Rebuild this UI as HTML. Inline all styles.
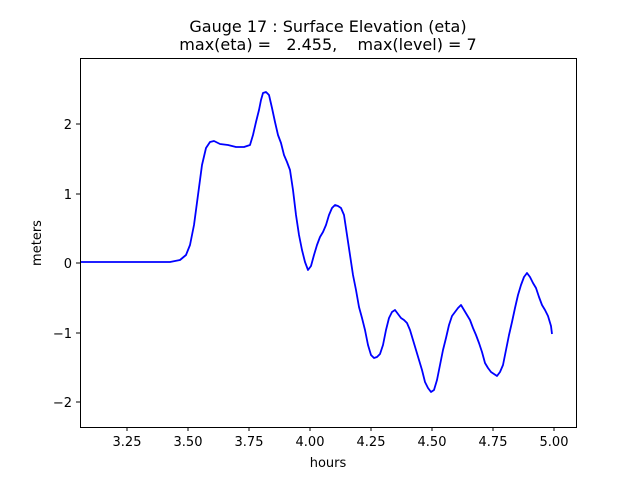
<!DOCTYPE html>
<html><head><meta charset="utf-8"><style>body{margin:0;background:#fff}svg{display:block}text{font-family:"DejaVu Sans","Liberation Sans",sans-serif;fill:#000}</style></head>
<body>
<svg width="640" height="480" xmlns="http://www.w3.org/2000/svg">
<rect width="640" height="480" fill="#fff"/>
<text x="328" y="32" font-size="16" text-anchor="middle">Gauge 17 : Surface Elevation (eta)</text>
<text x="328" y="50" font-size="16" text-anchor="middle" xml:space="preserve">max(eta) =   2.455,    max(level) = 7</text>
<polyline fill="none" stroke="#0000ff" stroke-width="1.8" stroke-linejoin="round" points="80,262 120,262 140,262 170,262 180,260 186,255 190,245 194,225 198,195 202,165 206,148 210,142 214,141 220,144 228,145 236,147 244,147 250,145 253,135 256,122 259,110 261,100 263,93 266,92 269,95 272,108 275,122 278,135 281,143 284,155 287,162 290,170 293,190 296,215 299,235 302,250 305,262 308,270 311,266 314,255 317,245 320,237 323,232 326,225 329,215 332,208 335,205 338,206 341,208 344,215 347,235 350,255 353,275 356,290 359,307 362,318 365,330 368,345 371,355 374,358 377,357 380,354 383,345 386,330 389,318 392,312 395,310 398,314 401,318 404,320 407,323 410,330 413,340 416,350 419,360 422,370 425,382 428,388 431,392 434,390 437,380 440,365 443,350 446,338 449,325 452,316 455,312 458,308 461,305 464,310 467,315 470,320 473,328 476,335 479,343 482,352 485,363 488,368 491,372 494,374 497,376 500,372 503,365 506,350 509,335 512,322 515,308 518,295 521,285 524,277 527,273 530,277 533,283 536,288 539,297 542,305 545,310 548,316 551,326 552,334"/>
<rect x="80.5" y="58.5" width="496" height="369" fill="none" stroke="#000" stroke-width="1"/>
<g stroke="#000" stroke-width="1">
<line x1="127" y1="427" x2="127" y2="431"/><line x1="188" y1="427" x2="188" y2="431"/><line x1="249" y1="427" x2="249" y2="431"/><line x1="310" y1="427" x2="310" y2="431"/><line x1="371" y1="427" x2="371" y2="431"/><line x1="432" y1="427" x2="432" y2="431"/><line x1="493" y1="427" x2="493" y2="431"/><line x1="554" y1="427" x2="554" y2="431"/>
<line x1="76" y1="124" x2="80" y2="124"/><line x1="76" y1="194" x2="80" y2="194"/><line x1="76" y1="263" x2="80" y2="263"/><line x1="76" y1="333" x2="80" y2="333"/><line x1="76" y1="402" x2="80" y2="402"/>
</g>
<g font-size="13" text-anchor="middle">
<text x="127" y="446">3.25</text><text x="188" y="446">3.50</text><text x="249" y="446">3.75</text><text x="310" y="446">4.00</text><text x="371" y="446">4.25</text><text x="432" y="446">4.50</text><text x="493" y="446">4.75</text><text x="554" y="446">5.00</text>
</g>
<g font-size="13" text-anchor="end">
<text x="72" y="129">2</text><text x="72" y="199">1</text><text x="72" y="268">0</text><text x="72" y="338">−1</text><text x="72" y="407">−2</text>
</g>
<text x="328" y="467" font-size="13" text-anchor="middle">hours</text>
<text x="41" y="243" font-size="13" text-anchor="middle" transform="rotate(-90 41 243)">meters</text>
</svg>
</body></html>
